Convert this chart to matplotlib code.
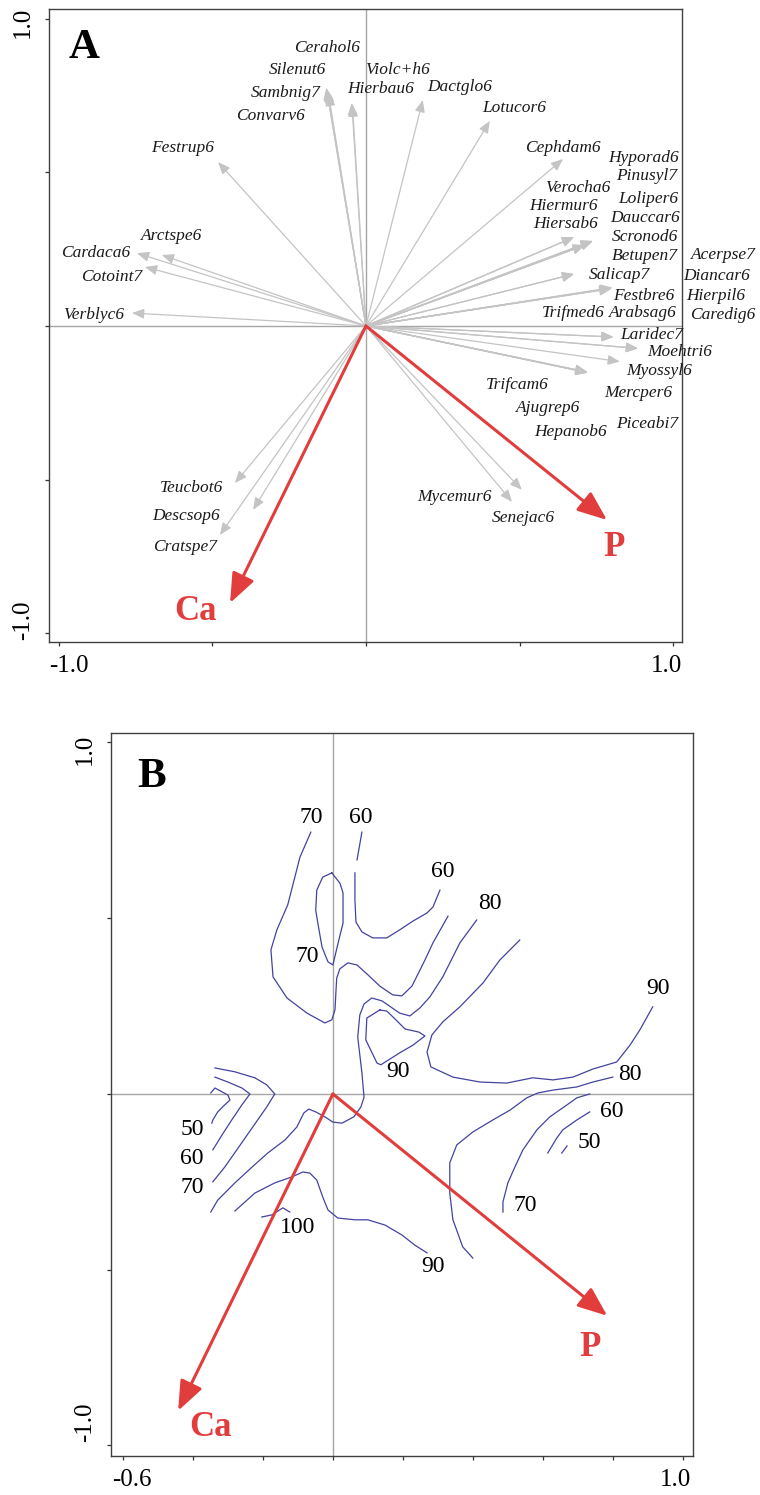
import matplotlib.pyplot as plt
from matplotlib.transforms import offset_copy

plt.rcParams['font.family'] = ['Liberation Serif', 'DejaVu Serif']

# ---- panel A: species scores (arrow tips) ----
species = ['Cerahol6', 'Silenut6', 'Sambnig7', 'Convarv6', 'Festrup6',
           'Violc+h6', 'Hierbau6', 'Dactglo6', 'Lotucor6', 'Cephdam6',
           'Hyporad6', 'Pinusyl7', 'Verocha6', 'Loliper6', 'Hiermur6',
           'Dauccar6', 'Hiersab6', 'Scronod6', 'Betupen7', 'Acerpse7',
           'Salicap7', 'Diancar6', 'Festbre6', 'Hierpil6', 'Trifmed6',
           'Arabsag6', 'Caredig6', 'Laridec7', 'Moehtri6', 'Myossyl6',
           'Trifcam6', 'Mercper6', 'Ajugrep6', 'Piceabi7', 'Hepanob6',
           'Mycemur6', 'Senejac6', 'Teucbot6', 'Descsop6', 'Cratspe7',
           'Arctspe6', 'Cardaca6', 'Cotoint7', 'Verblyc6']
spec_x = [-0.127, -0.125, -0.129, -0.122, -0.481,
          -0.046, -0.044, 0.185, 0.403, 0.641,
          0.738, 0.712, 0.738, 0.677, 0.677,
          0.738, 0.712, 0.712, 0.677, 0.800,
          0.677, 0.798, 0.800, 0.802, 0.800,
          0.805, 0.885, 0.805, 0.885, 0.826,
          0.722, 0.720, 0.722, 0.721, 0.720,
          0.475, 0.507, -0.426, -0.367, -0.475,
          -0.664, -0.745, -0.719, -0.761]
spec_y = [0.771, 0.765, 0.775, 0.755, 0.533,
          0.725, 0.720, 0.735, 0.667, 0.543,
          0.277, 0.263, 0.276, 0.289, 0.289,
          0.276, 0.263, 0.263, 0.169, 0.123,
          0.169, 0.121, 0.123, 0.125, 0.123,
          -0.036, -0.073, -0.036, -0.073, -0.116,
          -0.152, -0.150, -0.152, -0.151, -0.150,
          -0.572, -0.533, -0.511, -0.598, -0.680,
          0.231, 0.237, 0.192, 0.042]
# where each species name is written
label_pos = [(-0.127, 0.904), (-0.224, 0.833), (-0.260, 0.758), (-0.312, 0.683), (-0.595, 0.579),
             (0.104, 0.833), (0.049, 0.771), (0.306, 0.777), (0.481, 0.709), (0.641, 0.579),
             (0.904, 0.546), (0.914, 0.488), (0.689, 0.449), (0.917, 0.413), (0.641, 0.390),
             (0.907, 0.351), (0.650, 0.332), (0.907, 0.289), (0.907, 0.228), (1.164, 0.231),
             (0.826, 0.166), (1.141, 0.163), (0.904, 0.098), (1.138, 0.098), (0.676, 0.042),
             (0.901, 0.042), (1.161, 0.036), (0.930, -0.029), (1.021, -0.085), (0.953, -0.146),
             (0.491, -0.192), (0.885, -0.218), (0.592, -0.267), (0.914, -0.319), (0.667, -0.345),
             (0.289, -0.556), (0.511, -0.624), (-0.566, -0.527), (-0.585, -0.618), (-0.589, -0.719),
             (-0.631, 0.293), (-0.878, 0.237), (-0.826, 0.159), (-0.885, 0.036)]

# environmental variables
env_names = ['Ca', 'P']
env_x = [-0.442, 0.784]
env_y = [-0.901, -0.631]
env_label_A = [(-0.556, -0.930), (0.807, -0.719)]
env_label_B = [(-0.351, -0.950), (0.734, -0.720)]

# ---- panel B: contour lines ----
c70a_x = [-0.063, -0.094, -0.129, -0.160, -0.177, -0.171, -0.131, -0.074, -0.023, -0.003, 0.006,
          0.009, 0.011, 0.020, 0.043, 0.069, 0.100, 0.134, 0.171, 0.197, 0.226, 0.263, 0.286, 0.329]
c70a_y = [0.745, 0.674, 0.538, 0.467, 0.410, 0.333, 0.273, 0.230, 0.202, 0.211, 0.239,
          0.296, 0.330, 0.356, 0.373, 0.367, 0.339, 0.307, 0.282, 0.279, 0.307, 0.381, 0.430, 0.506]
c70b_x = [-0.003, 0.020, 0.029, 0.029, 0.017, 0.000, -0.014, -0.031, -0.043, -0.049, -0.046, -0.029, -0.003]
c70b_y = [0.629, 0.600, 0.572, 0.486, 0.438, 0.367, 0.376, 0.418, 0.486, 0.523, 0.580, 0.617, 0.629]
c60a_x = [0.083, 0.069]
c60a_y = [0.745, 0.666]
c60b_x = [0.063, 0.063, 0.066, 0.083, 0.114, 0.154, 0.191, 0.229, 0.269, 0.286, 0.306]
c60b_y = [0.629, 0.552, 0.489, 0.461, 0.444, 0.444, 0.467, 0.492, 0.515, 0.532, 0.580]
c80a_x = [0.411, 0.363, 0.314, 0.277, 0.249, 0.220, 0.191, 0.140, 0.111, 0.089, 0.077, 0.071, 0.083,
          0.089, 0.080, 0.060, 0.026, 0.000, -0.023, -0.049, -0.069, -0.083, -0.103, -0.137, -0.186,
          -0.231, -0.280, -0.329, -0.349]
c80a_y = [0.495, 0.430, 0.333, 0.276, 0.245, 0.222, 0.230, 0.265, 0.273, 0.256, 0.225, 0.162, 0.060,
          -0.009, -0.037, -0.065, -0.083, -0.080, -0.065, -0.051, -0.043, -0.054, -0.094, -0.131, -0.168,
          -0.208, -0.253, -0.302, -0.336]
c90a_x = [0.534, 0.477, 0.429, 0.363, 0.314, 0.283, 0.269, 0.280, 0.343, 0.420, 0.497, 0.571, 0.629,
          0.686, 0.743, 0.811, 0.849, 0.877, 0.914]
c90a_y = [0.438, 0.381, 0.316, 0.248, 0.205, 0.168, 0.119, 0.077, 0.048, 0.034, 0.031, 0.046, 0.040,
          0.048, 0.071, 0.091, 0.139, 0.182, 0.248]
c90b_x = [0.134, 0.097, 0.094, 0.126, 0.137, 0.191, 0.229, 0.263, 0.246, 0.206, 0.180, 0.154, 0.134]
c90b_y = [0.239, 0.216, 0.154, 0.088, 0.083, 0.117, 0.139, 0.165, 0.176, 0.185, 0.211, 0.236, 0.239]
c80b_x = [0.800, 0.743, 0.697, 0.629, 0.586, 0.554, 0.506, 0.457, 0.400, 0.354, 0.334, 0.334, 0.343, 0.371, 0.400]
c80b_y = [0.048, 0.034, 0.020, 0.011, 0.003, -0.011, -0.046, -0.074, -0.108, -0.145, -0.196, -0.282, -0.358, -0.435, -0.467]
c70c_x = [0.734, 0.697, 0.669, 0.620, 0.583, 0.543, 0.520, 0.500, 0.486, 0.486]
c70c_y = [0.000, -0.011, -0.031, -0.065, -0.102, -0.159, -0.208, -0.253, -0.307, -0.336]
c60c_x = [0.734, 0.697, 0.657, 0.640, 0.614]
c60c_y = [-0.051, -0.074, -0.102, -0.125, -0.168]
c50c_x = [0.669, 0.654]
c50c_y = [-0.148, -0.168]
c50d_x = [-0.349, -0.337, -0.300, -0.294, -0.309, -0.329, -0.343, -0.346]
c50d_y = [0.003, 0.017, -0.003, -0.017, -0.031, -0.051, -0.074, -0.083]
c60d_x = [-0.337, -0.300, -0.260, -0.237, -0.260, -0.289, -0.317, -0.343]
c60d_y = [0.048, 0.034, 0.017, 0.000, -0.031, -0.074, -0.117, -0.159]
c70d_x = [-0.337, -0.280, -0.223, -0.189, -0.166, -0.189, -0.229, -0.271, -0.309, -0.343]
c70d_y = [0.074, 0.063, 0.046, 0.026, 0.000, -0.037, -0.094, -0.154, -0.208, -0.250]
c90c_x = [-0.280, -0.223, -0.166, -0.117, -0.086, -0.066, -0.046, -0.029, -0.014, 0.014, 0.063, 0.100,
          0.149, 0.197, 0.234, 0.269]
c90c_y = [-0.333, -0.282, -0.253, -0.236, -0.222, -0.225, -0.245, -0.293, -0.330, -0.353, -0.358, -0.358,
          -0.373, -0.401, -0.430, -0.452]
c100_x = [-0.203, -0.174, -0.143, -0.123]
c100_y = [-0.350, -0.344, -0.324, -0.336]

contours = [(c70a_x, c70a_y), (c70b_x, c70b_y), (c60a_x, c60a_y), (c60b_x, c60b_y),
            (c80a_x, c80a_y), (c90a_x, c90a_y), (c90b_x, c90b_y), (c80b_x, c80b_y),
            (c70c_x, c70c_y), (c60c_x, c60c_y), (c50c_x, c50c_y), (c50d_x, c50d_y),
            (c60d_x, c60d_y), (c70d_x, c70d_y), (c90c_x, c90c_y), (c100_x, c100_y)]
contour_levels = ['70', '60', '70', '60', '80', '90', '90', '80', '70', '60', '50', '50', '60', '70', '90', '100']
contour_label_pos = [(-0.063, 0.788), (0.080, 0.788), (-0.074, 0.390), (0.314, 0.632), (0.449, 0.543),
                     (0.929, 0.299), (0.186, 0.063), (0.849, 0.054), (0.549, -0.316), (0.797, -0.051),
                     (0.734, -0.139), (-0.403, -0.102), (-0.403, -0.185), (-0.403, -0.267),
                     (0.286, -0.492), (-0.100, -0.381)]

RED = '#e23d3d'
GREY = '#c4c4c4'
LINE = '#4343a0'


def frame(ax, xt, yt, xlim, ylim, xlabs, ylabs):
    ax.set_xlim(xlim)
    ax.set_ylim(ylim)
    ax.set_xticks(xt)
    ax.set_yticks(yt)
    ax.set_xticklabels([])
    ax.set_yticklabels([])
    ax.tick_params(direction='out', length=3, width=0.9, colors='#333333')
    for s in ax.spines.values():
        s.set_color('#404040')
        s.set_linewidth(1.0)
    ax.axhline(0, color='#a6a6a6', lw=1.0, zorder=0)
    ax.axvline(0, color='#a6a6a6', lw=1.0, zorder=0)
    tx = offset_copy(ax.get_xaxis_transform(), fig=fig, x=0, y=-17.5, units='points')
    for v, s in xlabs:
        ax.text(v, 0, s, transform=tx, ha='center', va='center', fontsize=18)
    ty = offset_copy(ax.get_yaxis_transform(), fig=fig, x=-18.5, y=0, units='points')
    for v, s in ylabs:
        ax.text(0, v, s, transform=ty, ha='center', va='center', fontsize=18, rotation=90)


def env_arrows(ax, lab_pos):
    for name, x, y, (lx, ly) in zip(env_names, env_x, env_y, lab_pos):
        ax.annotate('', xy=(x, y), xytext=(0, 0),
                    arrowprops=dict(arrowstyle='-|>,head_length=0.9,head_width=0.36',
                                    color=RED, lw=2.2, mutation_scale=20,
                                    shrinkA=0, shrinkB=0), zorder=5)
        ax.text(lx, ly, name, color=RED, fontsize=25, fontweight='bold',
                ha='center', va='center', zorder=6)


fig = plt.figure(figsize=(7.6, 14.95), dpi=100)

# ---- A ----
axA = fig.add_axes([0.06447, 0.57057, 0.83289, 0.42341])
frame(axA, [-1, -0.5, 0, 0.5, 1], [-1, -0.5, 0, 0.5, 1],
      (-1.031, 1.028), (-1.028, 1.031),
      [(-0.967, '-1.0'), (0.979, '1.0')], [(0.989, '1.0'), (-0.956, '-1.0')])

for name, x, y, (lx, ly) in zip(species, spec_x, spec_y, label_pos):
    axA.annotate('', xy=(x, y), xytext=(0, 0),
                 arrowprops=dict(arrowstyle='-|>,head_length=0.6,head_width=0.25',
                                 color=GREY, lw=0.9, mutation_scale=12,
                                 shrinkA=0, shrinkB=0), zorder=2)
    axA.text(lx, ly, name, fontsize=12.5, style='italic', color='#1a1a1a',
             ha='center', va='center', zorder=4)

env_arrows(axA, env_label_A)
axA.text(-0.917, 0.904, 'A', fontsize=31, fontweight='bold', ha='center', va='center')

# ---- B ----
axB = fig.add_axes([0.14605, 0.02609, 0.76579, 0.48361])
frame(axB, [-0.6, -0.4, -0.2, 0, 0.2, 0.4, 0.6, 0.8, 1.0], [-1, -0.5, 0, 0.5, 1],
      (-0.634, 1.029), (-1.030, 1.027),
      [(-0.574, '-0.6'), (0.980, '1.0')], [(0.979, '1.0'), (-0.933, '-1.0')])

for (xs, ys), lev, (lx, ly) in zip(contours, contour_levels, contour_label_pos):
    axB.plot(xs, ys, color=LINE, lw=0.9, zorder=3)

for (xs, ys), lev, (lx, ly) in zip(contours, contour_levels, contour_label_pos):
    axB.text(lx, ly, lev, fontsize=17, ha='center', va='center', zorder=4)

env_arrows(axB, env_label_B)
axB.text(-0.517, 0.902, 'B', fontsize=31, fontweight='bold', ha='center', va='center')

plt.savefig('out.png', dpi=100)
